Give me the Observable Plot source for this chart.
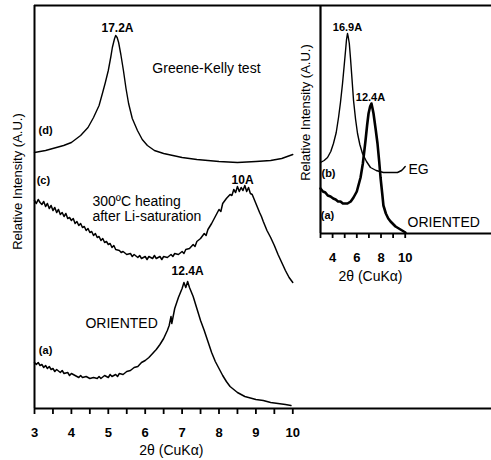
<!DOCTYPE html>
<html><head><meta charset="utf-8">
<script src="https://cdn.jsdelivr.net/npm/d3@7"></script>
<script src="https://cdn.jsdelivr.net/npm/@observablehq/plot@0.6"></script>
<style>
body{margin:0;background:#fff;}
#wrap{position:relative;width:491px;height:460px;overflow:hidden;}
#wrap svg{position:absolute;left:0;top:0;max-width:none;}
</style></head><body><div id="wrap"></div>
<script>
// ---- main panel data: [2θ, relative intensity] ----
const curveD = [[3.0,256],[3.3,258],[3.79,263],[4.0,266],[4.25,273],[4.45,281],[4.6,291],[4.75,303],[4.84,315],[4.92,326],[5.0,338],[5.07,352],[5.11,361],[5.17,370],[5.2,373],[5.24,371],[5.28,366],[5.34,354],[5.41,338],[5.48,320],[5.55,305],[5.65,290],[5.79,278],[5.92,269],[6.06,263],[6.25,258],[6.5,255],[7.0,251],[7.4,249],[8.0,247],[8.5,246],[9.0,247],[9.4,248],[9.7,250],[10.0,254]];
const curveC = [[3.00,208],[3.05,205],[3.10,209],[3.15,206],[3.20,204],[3.25,207],[3.30,202],[3.35,205],[3.40,200],[3.45,203],[3.50,198],[3.55,201],[3.60,196],[3.65,199],[3.70,194],[3.75,196],[3.80,192],[3.85,195],[3.90,190],[3.95,191],[4.00,188],[4.05,190],[4.10,185],[4.15,187],[4.20,183],[4.25,185],[4.30,181],[4.35,182],[4.40,178],[4.45,180],[4.50,176],[4.55,177],[4.60,173],[4.65,175],[4.70,171],[4.75,172],[4.80,168],[4.85,170],[4.90,166],[4.95,167],[5.00,164],[5.05,165],[5.10,161],[5.15,163],[5.20,159],[5.30,158],[5.35,156],[5.40,157],[5.50,154],[5.60,155],[5.65,152],[5.70,154],[5.80,151],[5.85,153],[5.90,150],[6.00,152],[6.05,149],[6.10,152],[6.20,150],[6.25,153],[6.30,150],[6.40,152],[6.45,149],[6.50,152],[6.60,151],[6.70,154],[6.75,152],[6.80,155],[6.90,154],[7.00,157],[7.05,155],[7.10,159],[7.20,160],[7.30,164],[7.35,162],[7.40,167],[7.50,170],[7.60,175],[7.65,173],[7.70,179],[7.80,185],[7.90,192],[8.00,199],[8.05,197],[8.10,205],[8.20,210],[8.30,214],[8.35,213],[8.40,219],[8.45,216],[8.50,222],[8.55,217],[8.60,221],[8.65,218],[8.70,223],[8.75,217],[8.80,221],[8.85,215],[8.90,214],[9.00,205],[9.10,196],[9.15,192],[9.20,187],[9.30,178],[9.40,171],[9.50,163],[9.60,154],[9.70,146],[9.80,138],[9.90,131],[10.00,126]];
const curveA = [[3.00,46],[3.05,44],[3.10,46],[3.15,43],[3.20,44],[3.25,41],[3.30,43],[3.35,40],[3.40,42],[3.45,39],[3.50,40],[3.55,37],[3.60,39],[3.70,36],[3.75,38],[3.80,35],[3.90,36],[3.95,33],[4.00,35],[4.10,33],[4.20,31],[4.25,33],[4.30,31],[4.40,32],[4.50,30],[4.60,31],[4.70,30],[4.75,32],[4.80,30],[4.90,33],[5.00,31],[5.05,34],[5.10,32],[5.20,34],[5.25,32],[5.30,35],[5.40,34],[5.50,37],[5.60,38],[5.70,41],[5.80,42],[5.90,46],[6.00,48],[6.10,51],[6.20,55],[6.30,59],[6.40,64],[6.50,70],[6.60,78],[6.65,83],[6.70,92],[6.72,85],[6.80,100],[6.90,111],[7.00,120],[7.05,126],[7.10,121],[7.15,127],[7.20,121],[7.30,112],[7.40,100],[7.50,88],[7.60,78],[7.70,67],[7.80,56],[7.90,47],[8.00,40],[8.10,33],[8.20,27],[8.30,22],[8.40,19],[8.50,16],[8.60,14],[8.70,12],[8.80,11],[8.90,10],[9.00,9],[9.20,8],[9.40,6],[9.60,5],[9.80,4],[9.95,3]];
const mainTicks = [3,3.5,4,4.5,5,5.5,6,6.5,7,7.5,8,8.5,9,9.5,10];
const mainTickLabels = [3,4,5,6,7,8,9,10];
const mainPeakLabels = [{x:5.25,y:380,t:"17.2A"},{x:8.64,y:228,t:"10A"},{x:7.15,y:137,t:"12.4A"}];
const mainTags = [{x:3.3,y:278,t:"(d)"},{x:3.24,y:228,t:"(c)"},{x:3.3,y:58,t:"(a)"}];
const mainCentered = [{x:7.66,y:340,t:"Greene-Kelly test"}];
const mainLeft = [{x:4.57,y:207,t:"300ºC heating"},{x:4.57,y:192,t:"after Li-saturation"},{x:4.38,y:85,t:"ORIENTED"}];

// ---- inset data ----
const insetB = [[3.0,71],[3.3,73],[3.58,76],[3.85,82],[4.07,90],[4.3,101],[4.49,116],[4.65,131],[4.82,150],[4.95,167],[5.07,183],[5.15,194],[5.23,200],[5.3,196],[5.38,190],[5.48,175],[5.6,155],[5.73,133],[5.9,114],[6.06,100],[6.25,89],[6.47,80],[6.8,72],[7.13,66],[7.6,63],[8.2,61],[8.8,61],[9.36,61],[9.7,63],[9.86,65],[10.0,67]];
const insetA = [[3.0,45],[3.2,42],[3.4,41],[3.6,38],[3.83,37],[4.05,35],[4.25,34],[4.45,32],[4.65,32],[4.85,30],[5.0,30],[5.23,30],[5.5,32],[5.73,36],[6.0,42],[6.31,56],[6.5,70],[6.72,93],[6.85,108],[6.97,120],[7.1,127],[7.21,130],[7.3,125],[7.38,120],[7.55,105],[7.71,90],[7.85,72],[7.96,56],[8.1,40],[8.2,28],[8.4,20],[8.6,15],[8.79,12],[9.2,7],[9.61,4],[10.02,1]];
const insetTicks = [3,4,5,6,7,8,9,10];
const insetTickLabels = [4,6,8,10];
const insetPeakLabels = [{x:5.23,y:206,t:"16.9A"},{x:7.13,y:136,t:"12.4A"}];
const insetTags = [{x:3.66,y:60,t:"(b)"},{x:3.58,y:18,t:"(a)"}];
const insetNames = [{x:10.27,y:64,t:"EG"},{x:10.19,y:11,t:"ORIENTED"}];

const F = "Arial, 'Liberation Sans', sans-serif";
const xTitle = "2θ (CuKα)";
const yTitle = "Relative Intensity (A.U.)";

const main = Plot.plot({
  width: 491, height: 460,
  marginLeft: 34, marginRight: 0, marginTop: 5, marginBottom: 52,
  x: {domain: [3, 15.385], axis: null},
  y: {domain: [0, 403], axis: null},
  style: {fontFamily: F, background: "transparent", color: "#000", overflow: "visible"},
  marks: [
    Plot.ruleY([0], {stroke: "#000", strokeWidth: 2}),
    Plot.ruleY([403], {stroke: "#000", strokeWidth: 2}),
    Plot.ruleX([3], {stroke: "#000", strokeWidth: 2}),
    Plot.axisX({ticks: mainTicks, tickSize: 6, strokeWidth: 1.8, stroke: "#000", fill: "none", label: null}),
    Plot.axisX({ticks: mainTickLabels, tickSize: 0, tickPadding: 19, tickFormat: d => String(d), label: null,
      fontSize: 13, fontWeight: "bold", fill: "#000"}),
    Plot.line(curveD, {stroke: "#000", strokeWidth: 1.4}),
    Plot.line(curveC, {stroke: "#000", strokeWidth: 1.5}),
    Plot.line(curveA, {stroke: "#000", strokeWidth: 1.5}),
    Plot.text(mainPeakLabels, {x: "x", y: "y", text: "t", fontSize: 12, fontWeight: "bold", fill: "#000"}),
    Plot.text(mainTags, {x: "x", y: "y", text: "t", fontSize: 11, fontWeight: "bold", fill: "#000"}),
    Plot.text(mainCentered, {x: "x", y: "y", text: "t", textAnchor: "middle", fontSize: 14, fill: "#000"}),
    Plot.text(mainLeft, {x: "x", y: "y", text: "t", textAnchor: "start", fontSize: 14, fill: "#000"}),
    Plot.text([{x: 6.71}], {x: "x", frameAnchor: "bottom", lineAnchor: "middle", dy: 42, text: () => xTitle, fontSize: 14, fill: "#000"}),
    Plot.text([{y: 227}], {y: "y", frameAnchor: "left", textAnchor: "middle", lineAnchor: "middle", dx: -17, rotate: -90, text: () => yTitle, fontSize: 13, fill: "#000"})
  ]
});

const inset = Plot.plot({
  width: 491, height: 290,
  marginLeft: 320, marginRight: 0, marginTop: 5, marginBottom: 57,
  x: {domain: [3, 17.13], axis: null},
  y: {domain: [0, 228], axis: null},
  style: {fontFamily: F, background: "transparent", color: "#000", overflow: "visible"},
  marks: [
    Plot.ruleY([0], {stroke: "#000", strokeWidth: 2}),
    Plot.ruleX([3], {stroke: "#000", strokeWidth: 2.2}),
    Plot.axisX({ticks: insetTicks, tickSize: 5, strokeWidth: 1.8, stroke: "#000", fill: "none", label: null}),
    Plot.axisX({ticks: insetTickLabels, tickSize: 0, tickPadding: 19, tickFormat: d => String(d), label: null,
      fontSize: 13, fontWeight: "bold", fill: "#000"}),
    Plot.line(insetB, {stroke: "#000", strokeWidth: 1.4}),
    Plot.line(insetA, {stroke: "#000", strokeWidth: 2.6}),
    Plot.text(insetPeakLabels, {x: "x", y: "y", text: "t", fontSize: 11, fontWeight: "bold", fill: "#000"}),
    Plot.text(insetTags, {x: "x", y: "y", text: "t", fontSize: 11, fontWeight: "bold", fill: "#000"}),
    Plot.text(insetNames, {x: "x", y: "y", text: "t", textAnchor: "start", fontSize: 14, fill: "#000"}),
    Plot.text([{x: 7.13}], {x: "x", frameAnchor: "bottom", lineAnchor: "middle", dy: 43, text: () => xTitle, fontSize: 14, fill: "#000"}),
    Plot.text([{y: 121}], {y: "y", frameAnchor: "left", textAnchor: "middle", lineAnchor: "middle", dx: -15, rotate: -90, text: () => yTitle, fontSize: 13, fill: "#000"})
  ]
});

const wrap = document.getElementById("wrap");
wrap.appendChild(main);
wrap.appendChild(inset);
</script></body></html>
